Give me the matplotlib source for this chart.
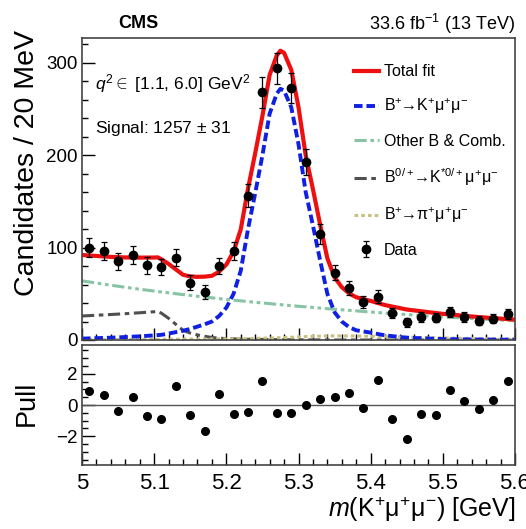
import numpy as np
import matplotlib.pyplot as plt
from matplotlib.ticker import MultipleLocator

plt.rcParams['font.family'] = ['Liberation Sans', 'DejaVu Sans']
plt.rcParams['mathtext.fontset'] = 'custom'
plt.rcParams['mathtext.rm'] = 'Liberation Sans'
plt.rcParams['mathtext.it'] = 'Liberation Sans:italic'
plt.rcParams['mathtext.bf'] = 'Liberation Sans:bold'

# data: 20 MeV bins
mass = [5.01, 5.03, 5.05, 5.07, 5.09, 5.11, 5.13, 5.15, 5.17, 5.19,
        5.21, 5.23, 5.25, 5.27, 5.29, 5.31, 5.33, 5.35, 5.37, 5.39,
        5.41, 5.43, 5.45, 5.47, 5.49, 5.51, 5.53, 5.55, 5.57, 5.59]
counts = [100, 96, 85, 92, 81, 79, 89, 62, 52, 80,
          96, 156, 268, 294, 273, 193, 115, 73, 56, 41,
          47, 29, 19, 25, 24, 30, 25, 21, 23, 28]
errors = [10.0, 9.8, 9.2, 9.6, 9.0, 8.9, 9.4, 7.9, 7.2, 8.9,
          9.8, 12.5, 16.4, 17.1, 16.5, 13.9, 10.7, 8.5, 7.5, 6.4,
          6.9, 5.4, 4.4, 5.0, 4.9, 5.5, 5.0, 4.6, 4.8, 5.3]
pulls = [0.9, 0.64, -0.38, 0.51, -0.68, -0.87, 1.24, -0.62, -1.67, 0.72,
         -0.6, -0.45, 1.54, -0.49, -0.49, 0.0, 0.41, 0.52, 0.75, -0.17,
         1.59, -0.88, -2.15, -0.58, -0.64, 0.99, 0.28, -0.28, 0.34, 1.54]

# fit components
m_curve = [5.00, 5.02, 5.04, 5.06, 5.08, 5.10, 5.105, 5.11, 5.12, 5.13,
           5.14, 5.15, 5.16, 5.17, 5.18, 5.19, 5.20, 5.21, 5.22, 5.23,
           5.24, 5.25, 5.26, 5.27, 5.275, 5.28, 5.29, 5.30, 5.31, 5.32,
           5.33, 5.34, 5.35, 5.36, 5.37, 5.38, 5.40, 5.42, 5.45, 5.50,
           5.55, 5.60]
signal = [1.5, 2.0, 2.5, 3.2, 4.0, 5.0, 5.3, 5.6, 7.0, 8.5,
          10, 12, 14.5, 17, 20, 26, 35, 50, 75, 120,
          159, 200, 245, 267, 272, 270, 252, 212, 160, 124,
          86, 50, 30, 20, 14, 10.5, 8, 5, 2.5, 1.0,
          0.5, 0.3]
comb = [64.0, 61.7, 59.3, 57.1, 55.0, 53.0, 52.5, 52.0, 51.1, 50.1,
        49.2, 48.3, 47.4, 46.5, 45.7, 44.8, 44.0, 43.2, 42.4, 41.6,
        40.8, 40.1, 39.4, 38.6, 38.3, 37.9, 37.2, 36.5, 35.9, 35.2,
        34.6, 33.9, 33.3, 32.7, 32.1, 31.5, 30.3, 29.2, 27.5, 25.1,
        22.8, 20.8]
partial = [26.0, 26.8, 27.6, 28.5, 29.5, 30.6, 31.0, 29.0, 23.5, 17.0,
           10.5, 7.5, 5.5, 4.0, 2.7, 2.0, 1.5, 1.2, 1.0, 0.8,
           0.7, 0.6, 0.5, 0.4, 0.4, 0.3, 0.3, 0.2, 0.2, 0.1,
           0.1, 0.1, 0, 0, 0, 0, 0, 0, 0, 0,
           0, 0]
pion = [0.5, 0.5, 0.6, 0.6, 0.7, 0.7, 0.7, 0.8, 0.8, 0.9,
        0.9, 1.0, 1.0, 1.1, 1.1, 1.2, 1.2, 1.3, 1.4, 1.5,
        1.7, 1.9, 2.1, 2.4, 2.5, 2.7, 3.0, 3.4, 3.7, 4.0,
        4.2, 4.4, 4.5, 4.5, 4.4, 4.3, 4.0, 3.6, 3.0, 2.2,
        1.5, 1.0]
total = np.array(signal) + np.array(comb) + np.array(partial) + np.array(pion)

W, H = 526, 529
fig = plt.figure(figsize=(W / 100, H / 100), dpi=100)
x0, x1 = 82 / W, 515 / W
ax = fig.add_axes([x0, 1 - 340 / H, x1 - x0, (340 - 38) / H])
axp = fig.add_axes([x0, 1 - 465 / H, x1 - x0, (465 - 345) / H])

ax.plot(m_curve, comb, color='#88c4a4', lw=2.2, dashes=(4, 1.2, 1.2, 1.2, 1.2, 1.2),
        label='Other B & Comb.')
ax.plot(m_curve, partial, color='#505050', lw=2.2, dashes=(4, 1.5, 1.5, 1.5),
        label=r'$\mathrm{B^{0/+}\!\!\rightarrow\!K^{*0/+}μ^{+}μ^{-}}$')
ax.plot(m_curve, pion, color='#c8c080', lw=2.2, dashes=(1.2, 1.0),
        label=r'$\mathrm{B^{+}\!\!\rightarrow\!π^{+}μ^{+}μ^{-}}$')
ax.plot(m_curve, signal, color='#1020e0', lw=2.8, dashes=(2.2, 1.0),
        label=r'$\mathrm{B^{+}\!\!\rightarrow\!K^{+}μ^{+}μ^{-}}$')
ax.plot(m_curve, total, color='#ee1010', lw=3.0, label='Total fit')
dat = ax.errorbar(mass, counts, yerr=errors, fmt='o', color='black', ms=6,
                  elinewidth=0.9, capsize=2, capthick=0.9, label='Data')

h, l = ax.get_legend_handles_labels()
order = [4, 3, 0, 1, 2, 5]
ax.legend([h[i] for i in order], [l[i] for i in order], loc='upper left',
          bbox_to_anchor=(0.605, 0.945), frameon=False, fontsize=11.5,
          handlelength=1.6, handletextpad=0.3, labelspacing=1.1,
          borderaxespad=0.2)

ax.set_xlim(5.0, 5.6)
ax.set_ylim(0, 327)
ax.yaxis.set_major_locator(MultipleLocator(100))
ax.yaxis.set_minor_locator(MultipleLocator(20))
ax.xaxis.set_major_locator(MultipleLocator(0.1))
ax.xaxis.set_minor_locator(MultipleLocator(0.02))
ax.tick_params(axis='x', labelbottom=False)

axp.axhline(0, color='#555555', lw=1.0)
axp.plot(mass, pulls, 'o', color='black', ms=5.5)
axp.set_xlim(5.0, 5.6)
axp.set_ylim(-3.85, 3.85)
axp.yaxis.set_major_locator(MultipleLocator(2))
axp.yaxis.set_minor_locator(MultipleLocator(0.5))
axp.xaxis.set_minor_locator(MultipleLocator(0.02))
axp.set_xticks([5.0, 5.1, 5.2, 5.3, 5.4, 5.5, 5.6])
axp.set_xticklabels(['5', '5.1', '5.2', '5.3', '5.4', '5.5', '5.6'])

for a in (ax, axp):
    a.tick_params(which='both', direction='in', top=False, right=False)
    a.tick_params(which='major', length=9, width=1.0)
    a.tick_params(which='minor', length=4.5, width=1.0)
    a.tick_params(axis='y', labelsize=13.5, pad=3)
    for s in a.spines.values():
        s.set_color('#444444')
        s.set_linewidth(1.2)
axp.tick_params(axis='x', labelsize=16, pad=6)

fig.text(27 / W, 1 - 30 / H, 'Candidates / 20 MeV', rotation=90,
         ha='center', va='top', fontsize=20.5)
fig.text(27 / W, 1 - 403 / H, 'Pull', rotation=90, ha='center', va='center',
         fontsize=19.5)
fig.text(515 / W, 1 - 509 / H, r'$m$(K$^{+}$μ$^{+}$μ$^{-}$) [GeV]',
         ha='right', va='center', fontsize=18)
fig.text(138 / W, 1 - 24 / H, 'CMS', ha='center', va='center', fontsize=13,
         fontweight='bold')
fig.text(515 / W, 1 - 24 / H, r'33.6 fb$^{-1}$ (13 TeV)', ha='right',
         va='center', fontsize=13)
fig.text(95 / W, 1 - 84 / H, r'$q^{2}\in$ [1.1, 6.0] GeV$^{2}$', ha='left',
         va='center', fontsize=12.5)
fig.text(95 / W, 1 - 128 / H, r'Signal: 1257 $\pm$ 31', ha='left',
         va='center', fontsize=12.5)

fig.savefig('out.png', dpi=100)
